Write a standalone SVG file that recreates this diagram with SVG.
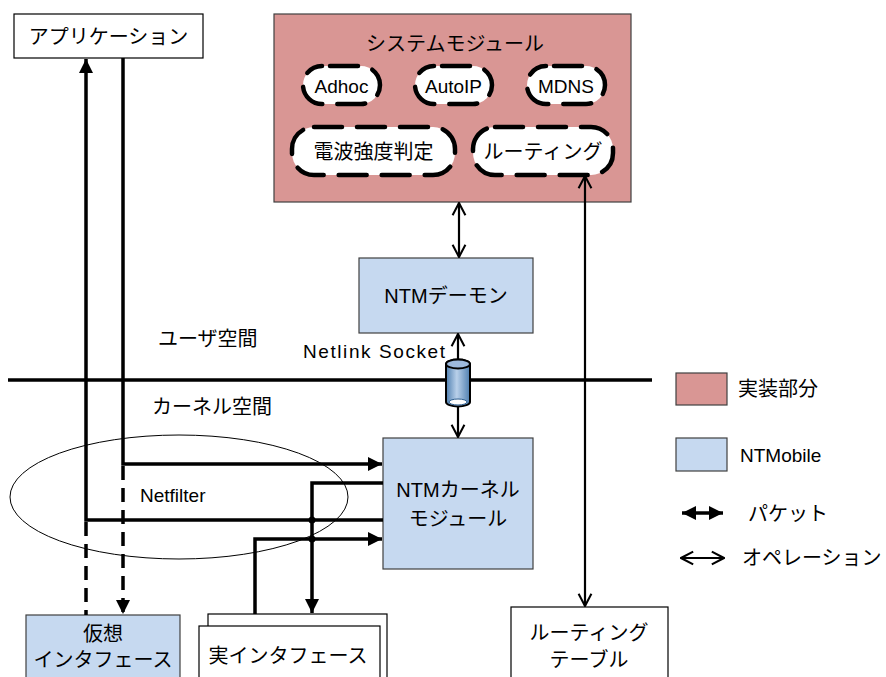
<svg xmlns="http://www.w3.org/2000/svg" width="886" height="677" viewBox="0 0 886 677">
  <style>
    .jp { font-family: "Liberation Sans", "Noto Sans CJK JP", sans-serif; font-size: 20px; fill: #000; }
    .lat { font-family: "Liberation Sans", "Noto Sans CJK JP", sans-serif; font-size: 19px; fill: #000; }
    .impl { fill: #D99694; stroke: #404040; stroke-width: 1.2; }
    .ntm { fill: #C6D9F0; stroke: #404040; stroke-width: 1.2; }
    .plain { fill: #fff; stroke: #000; stroke-width: 1.2; }
    .pill { fill: #fff; stroke: #000; stroke-width: 4.5; stroke-dasharray: 28 15; stroke-linecap: round; }
    .pkt { fill: none; stroke: #000; stroke-width: 3.5; }
    .pktd { fill: none; stroke: #000; stroke-width: 3.5; stroke-dasharray: 14 8; }
    .op { fill: none; stroke: #000; stroke-width: 2.2; }
  </style>
  <defs>
    <marker id="pkt-head" viewBox="0 0 10 10" refX="10" refY="5" markerWidth="4" markerHeight="4" orient="auto-start-reverse" markerUnits="strokeWidth">
      <path d="M0,0 L10,5 L0,10 Z" fill="#000"/>
    </marker>
    <marker id="op-head" viewBox="0 0 12 12" refX="11" refY="6" markerWidth="7" markerHeight="7" orient="auto-start-reverse" markerUnits="strokeWidth">
      <path d="M1.5,1 L11,6 L1.5,11" fill="none" stroke="#000" stroke-width="1.6"/>
    </marker>
    <linearGradient id="pipe" x1="0" y1="0" x2="1" y2="0">
      <stop offset="0" stop-color="#4F7FB0"/>
      <stop offset="0.45" stop-color="#B9D0EA"/>
      <stop offset="1" stop-color="#4F7FB0"/>
    </linearGradient>
  </defs>

  <!-- user / kernel boundary -->
  <line x1="8" y1="380" x2="652" y2="380" stroke="#000" stroke-width="3.5"/>
  <text class="jp" x="158" y="346">ユーザ空間</text>
  <text class="jp" x="152" y="414">カーネル空間</text>

  <!-- Netfilter hook region -->
  <g id="netfilter">
    <ellipse cx="179" cy="497" rx="169" ry="62" fill="none" stroke="#000" stroke-width="1"/>
    <text class="lat" x="140" y="502">Netfilter</text>
  </g>

  <g id="system-module">
    <rect class="impl" x="274" y="14" width="357" height="188"/>
    <text class="jp" x="455" y="51" text-anchor="middle" font-size="21">システムモジュール</text>
    <g id="adhoc">
      <rect class="pill" x="303" y="66" width="77" height="38" rx="19" stroke-dashoffset="-8"/>
      <text class="lat" x="341.5" y="93" text-anchor="middle" font-size="21">Adhoc</text>
    </g>
    <g id="autoip">
      <rect class="pill" x="415" y="66" width="77" height="38" rx="19" stroke-dashoffset="-8"/>
      <text class="lat" x="453.5" y="93" text-anchor="middle" font-size="21">AutoIP</text>
    </g>
    <g id="mdns">
      <rect class="pill" x="527" y="66" width="78" height="38" rx="19" stroke-dashoffset="-8"/>
      <text class="lat" x="566" y="93" text-anchor="middle" font-size="21">MDNS</text>
    </g>
    <g id="signal-strength">
      <rect class="pill" x="292" y="127" width="163" height="48" rx="22"/>
      <text class="jp" x="373.5" y="159" text-anchor="middle" font-size="22">電波強度判定</text>
    </g>
    <g id="routing">
      <rect class="pill" x="473" y="127" width="140" height="48" rx="22"/>
      <text class="jp" x="543" y="159" text-anchor="middle" font-size="21">ルーティング</text>
    </g>
  </g>

  <g id="application">
    <rect class="plain" x="14" y="14" width="189" height="44"/>
    <text class="jp" x="108.5" y="44" text-anchor="middle" font-size="21">アプリケーション</text>
  </g>

  <g id="ntm-daemon">
    <rect class="ntm" x="359" y="258" width="174" height="75"/>
    <text class="jp" x="446" y="303" text-anchor="middle">NTMデーモン</text>
  </g>

  <g id="ntm-kernel-module">
    <rect class="ntm" x="383" y="438" width="150" height="131"/>
    <text class="jp" x="458" y="497" text-anchor="middle">NTMカーネル</text>
    <text class="jp" x="458" y="526" text-anchor="middle">モジュール</text>
  </g>

  <g id="virtual-interface">
    <rect class="ntm" x="26" y="615" width="154" height="70"/>
    <text class="jp" x="103" y="641" text-anchor="middle">仮想</text>
    <text class="jp" x="103" y="667" text-anchor="middle">インタフェース</text>
  </g>

  <g id="real-interface">
    <rect class="plain" x="208" y="614" width="179" height="70"/>
    <rect class="plain" x="199" y="626" width="181" height="60"/>
    <text class="jp" x="288" y="663" text-anchor="middle">実インタフェース</text>
  </g>

  <g id="routing-table">
    <rect class="plain" x="511" y="607" width="157" height="80"/>
    <text class="jp" x="589" y="640" text-anchor="middle">ルーティング</text>
    <text class="jp" x="589" y="667" text-anchor="middle">テーブル</text>
  </g>

  <g id="connectors">
    <!-- packets between application and kernel module -->
    <polyline class="pkt" points="383,520 86,520 86,59" marker-end="url(#pkt-head)"/>
    <polyline class="pkt" points="123,58 123,464 382,464" marker-end="url(#pkt-head)"/>
    <!-- virtual interface paths -->
    <line class="pktd" x1="86" y1="522" x2="86" y2="615"/>
    <line class="pktd" x1="123" y1="466" x2="123" y2="614" marker-end="url(#pkt-head)"/>
    <!-- real interface paths -->
    <polyline class="pkt" points="383,483 312,483 312,613" marker-end="url(#pkt-head)"/>
    <polyline class="pkt" points="255,614 255,539 382,539" marker-end="url(#pkt-head)"/>
    <circle cx="312" cy="520" r="3.5" fill="#000"/>
    <circle cx="312" cy="539" r="3.5" fill="#000"/>
    <!-- operations -->
    <line class="op" x1="459" y1="203" x2="459" y2="257" marker-start="url(#op-head)" marker-end="url(#op-head)"/>
    <line class="op" x1="458" y1="334" x2="458" y2="437" marker-start="url(#op-head)" marker-end="url(#op-head)"/>
    <line class="op" x1="585" y1="176" x2="585" y2="606" marker-start="url(#op-head)" marker-end="url(#op-head)"/>
  </g>

  <!-- netlink socket pipe -->
  <g id="netlink-socket">
    <text class="lat" x="303" y="358" font-size="18" textLength="142">Netlink Socket</text>
    <path d="M446,364 L446,402 A12,4.5 0 0 0 470,402 L470,364 A12,4.5 0 0 0 446,364 Z" fill="url(#pipe)" stroke="#000" stroke-width="2"/>
    <ellipse cx="458" cy="364" rx="12" ry="4.5" fill="#9DB9DC" stroke="#000" stroke-width="2"/>
    <ellipse cx="458" cy="402" rx="9" ry="3" fill="#fff" stroke="#2F5F90" stroke-width="1"/>
  </g>

  <!-- legend -->
  <g id="legend">
    <rect class="impl" x="676" y="373" width="51" height="32"/>
    <text class="jp" x="738" y="396" font-size="21">実装部分</text>
    <rect class="ntm" x="676" y="438" width="51" height="33"/>
    <text class="lat" x="740" y="462" font-size="20">NTMobile</text>
    <line class="pkt" x1="682" y1="513" x2="723" y2="513" marker-start="url(#pkt-head)" marker-end="url(#pkt-head)"/>
    <text class="jp" x="748" y="521" font-size="21">パケット</text>
    <line class="op" x1="681" y1="558" x2="724" y2="558" marker-start="url(#op-head)" marker-end="url(#op-head)"/>
    <text class="jp" x="742" y="565" font-size="21">オペレーション</text>
  </g>
</svg>
